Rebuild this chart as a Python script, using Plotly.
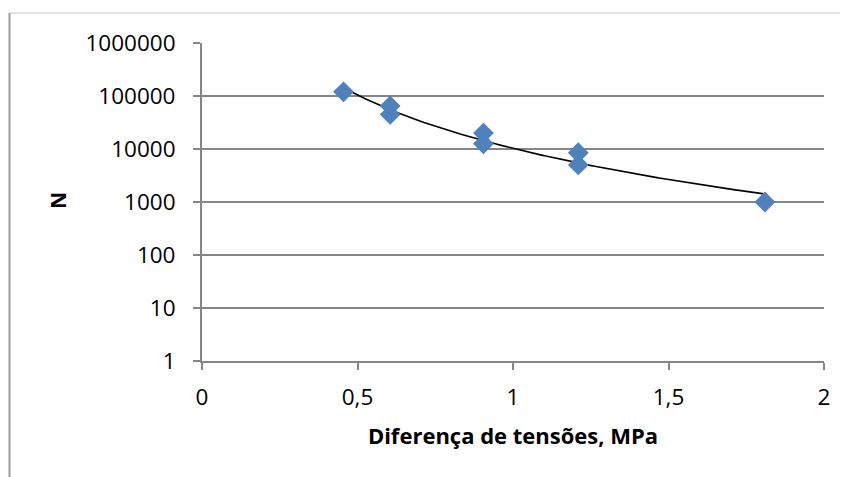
import numpy as np
import plotly.graph_objects as go

# Data
stress_diff = [0.455, 0.605, 0.605, 0.905, 0.905, 1.21, 1.21, 1.81]
cycles_N = [120000, 65000, 45000, 20000, 12500, 8500, 5000, 1000]

x_tick_vals = [0, 0.5, 1, 1.5, 2]
x_tick_text = ["0", "0,5", "1", "1,5", "2"]
y_tick_vals = [1, 10, 100, 1000, 10000, 100000, 1000000]
y_tick_text = ["1", "10", "100", "1000", "10000", "100000", "1000000"]

x_title = "Diferença de tensões, MPa"
y_title = "N"

# Power trend line (least squares in log-log space)
lx = np.log10(stress_diff)
ly = np.log10(cycles_N)
b, a = np.polyfit(lx, ly, 1)
xt = np.linspace(min(stress_diff), max(stress_diff), 200)
yt = 10 ** (a + b * np.log10(xt))

FONT = "Open Sans, Liberation Sans, sans-serif"
GRID = "#868686"

fig = go.Figure()
fig.add_trace(go.Scatter(x=xt, y=yt, mode="lines",
                         line=dict(color="black", width=1.6),
                         hoverinfo="skip", showlegend=False))
fig.add_trace(go.Scatter(x=stress_diff, y=cycles_N, mode="markers",
                         marker=dict(symbol="diamond", size=16, color="#4F81BD",
                                     line=dict(width=0)),
                         showlegend=False))

# page offset (body margin) compensation
OFF = 8
W, H = 848 - OFF, 477 - OFF
L, T = 202 - OFF, 43 - OFF
R = W - (824 - OFF)
B = H - (361 - OFF)
pw, ph = W - L - R, H - T - B

def px(xp):  # page pixel -> paper x
    return (xp - OFF - L) / pw

def py(yp):  # page pixel -> paper y
    return (H - B - (yp - OFF)) / ph

fig.update_layout(
    width=W, height=H,
    margin=dict(l=L, r=R, t=T, b=B),
    paper_bgcolor="white", plot_bgcolor="white",
    font=dict(family=FONT, size=22.5, color="black"),
    xaxis=dict(range=[0, 2], tickvals=x_tick_vals, ticktext=x_tick_text,
               showgrid=False, zeroline=False, showline=True, linecolor=GRID,
               linewidth=2, ticks="outside", ticklen=7, tickwidth=2, tickcolor=GRID,
               ticklabelstandoff=8,
               title=dict(text="<b>" + x_title + "</b>", font=dict(size=22), standoff=18)),
    yaxis=dict(type="log", range=[0, 6], tickvals=y_tick_vals, ticktext=y_tick_text,
               showgrid=True, gridcolor=GRID, gridwidth=2, zeroline=False,
               showline=True, linecolor=GRID, linewidth=2,
               ticks="outside", ticklen=7, tickwidth=2, tickcolor=GRID,
               ticklabelstandoff=13),
    annotations=[dict(text="<b>" + y_title + "</b>", xref="paper", yref="paper",
                      x=px(58), y=py(201), xanchor="center", yanchor="middle",
                      textangle=-90, showarrow=False, font=dict(size=21))],
    shapes=[
        dict(type="line", xref="paper", yref="paper", x0=px(9), x1=px(860),
             y0=py(13), y1=py(13), line=dict(color="#d9d9d9", width=1.5)),
        dict(type="line", xref="paper", yref="paper", x0=px(9.5), x1=px(9.5),
             y0=py(13), y1=py(480), line=dict(color="#9a9a9a", width=2)),
    ],
)

fig.write_html("out.html")
